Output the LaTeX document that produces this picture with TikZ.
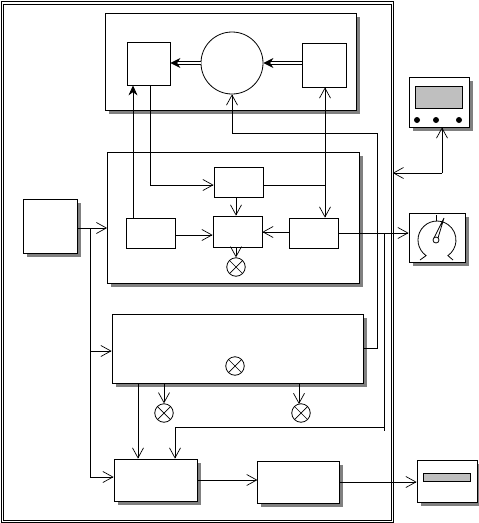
\documentclass[tikz,border=0pt]{standalone}
\usepackage{amsmath}
\usepackage{tikz}
\usetikzlibrary{arrows.meta,calc,positioning,shadows}
\definecolor{shadowgray}{rgb}{0.5,0.5,0.5}
\definecolor{panelgray}{rgb}{0.75,0.75,0.75}
\tikzset{
  caja/.style={
    draw=black,
    fill=white,
    line width=0.8pt,
    inner sep=0pt
  },
  bloque/.style={
    caja,
    drop shadow={shadow xshift=3.5pt,shadow yshift=-3.5pt,fill=shadowgray,opacity=1}
  },
  lampara/.style={
    circle,
    caja,
    minimum size=18.5pt,
    path picture={
      \draw[line width=0.7pt] (path picture bounding box.south west) -- (path picture bounding box.north east);
      \draw[line width=0.7pt] (path picture bounding box.north west) -- (path picture bounding box.south east);
    }
  },
  panel/.style={
    draw=black,
    fill=panelgray,
    line width=0.8pt,
    inner sep=0pt
  },
  arrow/.style={
    -{Straight Barb[length=10pt,width=11pt,line width=0.7pt]},
    line width=0.8pt
  },
  ambas/.style={
    {Straight Barb[length=10pt,width=11pt,line width=0.7pt]}-{Straight Barb[length=10pt,width=11pt,line width=0.7pt]},
    line width=0.8pt
  },
  flecha/.style={
    -{Stealth[length=10pt,width=9pt]},
    line width=0.8pt
  },
  doble/.style={
    -{Stealth[length=10pt,width=10pt]},
    double,
    double distance=2pt,
    line width=0.9pt
  },
  linea/.style={
    line width=0.8pt
  }
}
\begin{document}
\begin{tikzpicture}[x=1pt,y=-1pt]
\useasboundingbox (0,0) rectangle (479,523);
% marco doble
\node[draw=black,line width=0.8pt,minimum width=390pt,minimum height=518.5pt,double,double distance=1.6pt,inner sep=0pt,anchor=north west] (marco) at (2,2.5) {};
% bloques grandes
\node[bloque,minimum width=251pt,minimum height=97pt] (arriba) at (230.5,61.5) {};
\node[bloque,minimum width=252pt,minimum height=131pt] (medio) at (233.5,217.5) {};
\node[bloque,minimum width=251pt,minimum height=69pt] (abajo) at (237.5,348.5) {};
\node[bloque,minimum width=54pt,minimum height=54pt] (entrada) at (50,226) {};
% bloque superior
\node[caja,minimum width=43pt,minimum height=43pt] (cuad1) at (148.5,63.5) {};
\node[caja,circle,minimum size=62pt] (disco) at (232,63) {};
\node[caja,minimum width=44pt,minimum height=44pt] (cuad2) at (324,65) {};
% bloque medio
\node[caja,minimum width=49pt,minimum height=30pt] (sup) at (238.5,182) {};
\node[caja,minimum width=49pt,minimum height=30pt] (izq) at (151,233) {};
\node[caja,minimum width=49pt,minimum height=31pt] (cen) at (237.5,231.5) {};
\node[caja,minimum width=49pt,minimum height=30pt] (der) at (313.5,233) {};
\node[lampara] (lam1) at (236,267) {};
% bloque inferior
\node[lampara] (lam2) at (235,366) {};
\node[lampara] (lam3) at (164,413) {};
\node[lampara] (lam4) at (301,413) {};
\node[bloque,minimum width=83pt,minimum height=42pt] (suma) at (155.5,480) {};
\node[bloque,minimum width=82pt,minimum height=42pt,right=60pt of suma,yshift=-2pt] (salida) {};
% aparatos
\node[bloque,minimum width=60pt,minimum height=50pt] (monitor) at (439,102) {};
\node[panel,minimum width=47pt,minimum height=22pt] (pantalla) at (438.5,97) {};
\foreach \x in {417,436,459}
  \fill (\x,120) circle (3pt);
\node[bloque,minimum width=56pt,minimum height=49pt] (medidor) at (437,237.5) {};
\draw[line width=0.8pt] (420,260) -- (426.1,255.6) arc[start angle=235,end angle=-55,radius=19pt] -- (453,260);
\draw[line width=0.8pt] (436,215) -- (436,221);
\node[caja,circle,minimum size=6pt] (aguja) at (436,240) {};
\draw[line width=0.8pt] (434,238) -- (444,218) -- (438,238);
\node[bloque,minimum width=60pt,minimum height=42pt] (impresora) at (447,481) {};
\node[panel,minimum width=47pt,minimum height=8pt] (papel) at (446.5,477) {};
% conexiones
\draw[doble] (disco.west) -- (cuad1.east |- disco.west);
\draw[doble] (cuad2.west |- disco.east) -- (disco.east);
\draw[flecha] (izq.north -| 133,0) -- (cuad1.south -| 133,0);
\draw[arrow] (cuad1.south -| 150,0) |- (sup.west |- 0,185);
\draw[ambas] (cuad2.south -| 325,0) -- (der.north -| 325,0);
\draw[linea] (sup.east |- 0,185) -- (325,185);
\draw[arrow] (sup.south -| lam1) -- (cen.north -| lam1);
\draw[arrow] (izq.east |- 0,235) -- (cen.west |- 0,235);
\draw[arrow] (der.west |- 0,232) -- (cen.east |- 0,232);
\draw[arrow] (cen.south -| lam1) -- (lam1.north);
\draw[arrow] (der.east) -- (medidor.west |- der.east);
\draw[arrow] ([yshift=-2pt]entrada.east) -- (medio.west |- 0,228);
\coordinate (rama1) at (90,228);
\draw[arrow] (rama1) |- (abajo.west |- 0,351);
\draw[arrow] (rama1) |- (suma.west |- 0,477);
\draw[arrow] (abajo.south -| lam3) -- (lam3.north);
\draw[arrow] (abajo.south -| 299,0) -- (299,404);
\draw[arrow] (abajo.south -| 138,0) -- (suma.north -| 138,0);
\draw[arrow] (384,233) -- (384,427) -| (suma.north -| 175,0);
\draw[linea] (384,427) -- (384,431);
\draw[arrow] (abajo.east |- 0,348) -| (377,133) -| (disco.south);
\draw[arrow] (suma.east) -- (salida.west |- suma.east);
\draw[arrow] (salida.east) -- (impresora.west |- salida.east);
\coordinate (codo) at (442,173);
\draw[arrow] (codo) -- (monitor.south -| codo);
\draw[arrow] (codo) -- (marco.east |- codo);
\end{tikzpicture}
\end{document}
